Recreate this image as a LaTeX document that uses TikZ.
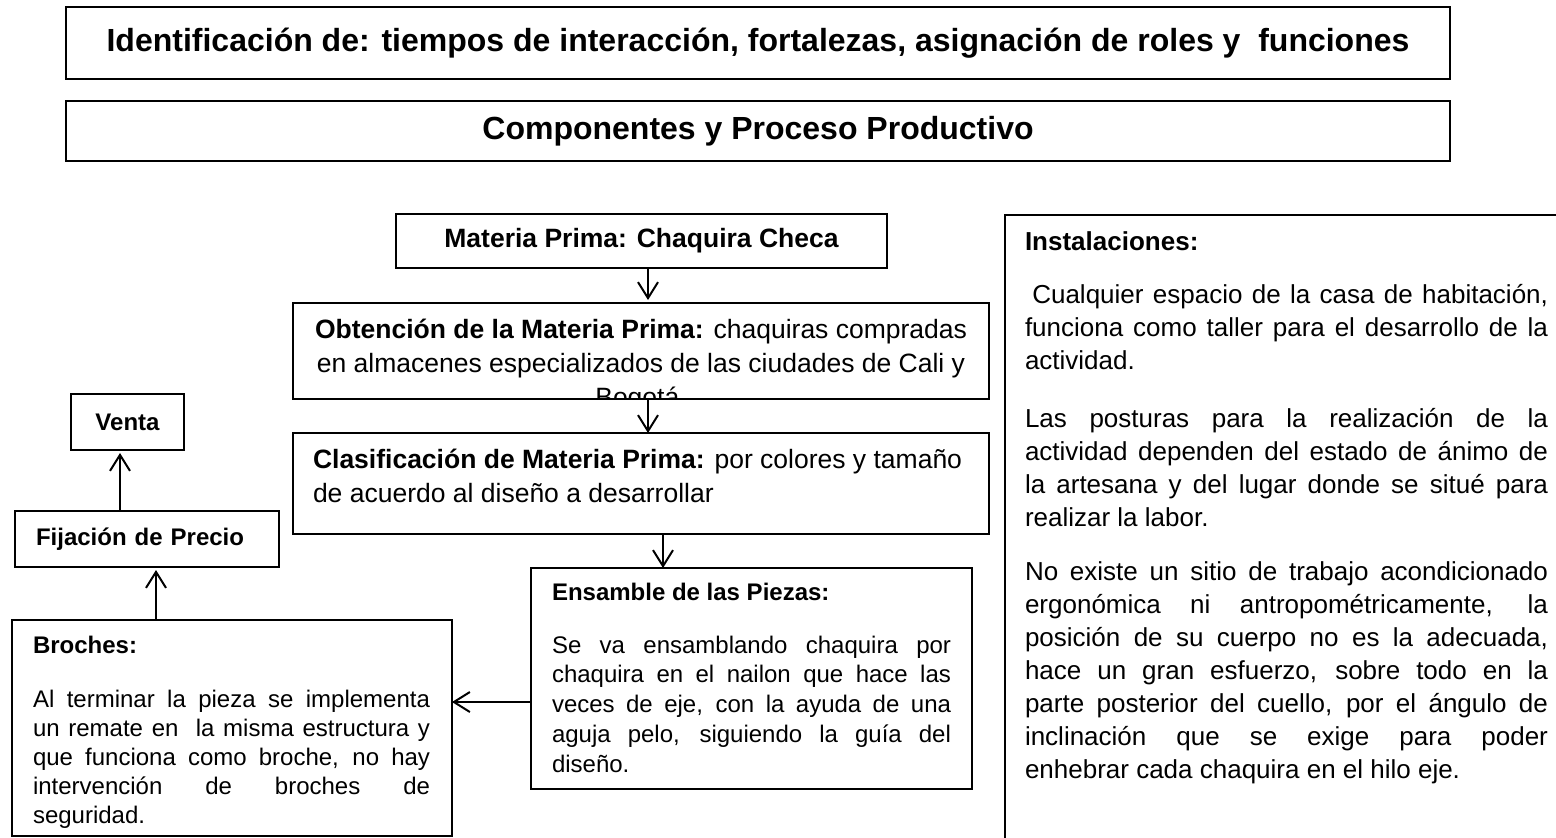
\documentclass[tikz,border=0pt]{standalone}
\usepackage{fontspec}
\setmainfont{Liberation Sans}
\usetikzlibrary{arrows.meta}
\hyphenpenalty=10000
\exhyphenpenalty=10000
\newcommand{\gapline}[1]{\par\vspace{#1}}

\begin{document}
\begin{tikzpicture}[x=0.5pt, y=-0.5pt,
    box/.style={draw, line width=1pt, inner sep=0pt, outer sep=0pt},
    inbox/.style={inner sep=0pt, minimum width=0pt, minimum height=0pt, anchor=north west},
    arr/.style={-{Straight Barb[length=8pt,width=10pt]}, line width=1pt}]
  \tikzstyle{headtext} = [font={\fontsize{16}{19}\selectfont\bfseries}]
  \tikzstyle{bigtext} = [font={\fontsize{13.25}{17}\selectfont}]
  \useasboundingbox (0,0) rectangle (1556,837);
  \clip (0,0) rectangle (1556,837);

  \node (titulo) [box, headtext, minimum width=692pt, minimum height=36pt] at (758,43)
    {Identificación de: tiempos de interacción, fortalezas, asignación de roles y\ \ funciones};
  \node (componentes) [box, headtext, minimum width=692pt, minimum height=30pt] at (758,131)
    {Componentes y Proceso Productivo};

  \node (materia) [box, minimum width=245.5pt, minimum height=27pt,
      font={\fontsize{13.25}{17}\selectfont\bfseries}] at (641.5,241) {Materia Prima: Chaquira Checa};
  \node (obtencion) [box, anchor=north west, minimum width=348pt, minimum height=48pt,
      path picture={\node [inbox, bigtext, anchor=north] at (path picture bounding box.north)
        {\parbox{340pt}{\centering\rule{0pt}{17.5pt}\textbf{Obtención de la Materia Prima:} chaquiras compradas\\
          en almacenes especializados de las ciudades de Cali y\\ Bogotá.}};}] at (293,303) {};
  \node (clasificacion) [box, anchor=north west, minimum width=348pt, minimum height=50.5pt,
      path picture={\node [inbox, bigtext] at ([xshift=10pt]path picture bounding box.north west)
        {\parbox{330pt}{\raggedright\rule{0pt}{17.5pt}\textbf{Clasificación de Materia Prima:} por colores y tamaño\\
          de acuerdo al diseño a desarrollar}};}] at (293,433) {};
  \node (ensamble) [box, anchor=north west, minimum width=220.5pt, minimum height=110.5pt,
      path picture={\node [inbox, font={\fontsize{12}{14.9}\selectfont}]
        at ([xshift=10.5pt]path picture bounding box.north west)
        {\parbox{199.5pt}{\rule{0pt}{16pt}\textbf{Ensamble de las Piezas:}\gapline{11.6pt}
          Se va ensamblando chaquira por\linebreak chaquira en el nailon que hace las\linebreak
          veces de eje, con la ayuda de una\linebreak aguja pelo, siguiendo la guía del\linebreak diseño.}};}] at (531,568) {};
  \node (broches) [box, anchor=north west, minimum width=220pt, minimum height=108pt,
      path picture={\node [inbox, font={\fontsize{12}{14.6}\selectfont}]
        at ([xshift=10.5pt]path picture bounding box.north west)
        {\parbox{198.5pt}{\rule{0pt}{16.5pt}\textbf{Broches:}\gapline{12.4pt}
          Al terminar la pieza se implementa\linebreak un remate en\ \ la misma estructura y\linebreak
          que funciona como broche, no hay\linebreak intervención de broches de\linebreak seguridad.}};}] at (12,620) {};
  \node (fijacion) [box, minimum width=132pt, minimum height=28pt, text width=111pt, align=left, inner xsep=10.5pt,
      font={\fontsize{12}{14}\selectfont\bfseries}] at (147,539) {Fijación de Precio};
  \node (venta) [box, minimum width=56.5pt, minimum height=28pt,
      font={\fontsize{12}{14}\selectfont\bfseries}] at (127.5,422) {Venta};

  \node (instalaciones) [box, anchor=north west, minimum width=400pt, minimum height=400pt,
      path picture={\node [inbox, font={\fontsize{13}{16.5}\selectfont}]
        at ([xshift=10pt]path picture bounding box.north west)
        {\parbox{261.5pt}{\rule{0pt}{17.5pt}\textbf{Instalaciones:}\gapline{10pt}
          \hspace*{0.28em}Cualquier espacio de la casa de habitación,\linebreak funciona como taller para el desarrollo de la\linebreak
          actividad.\gapline{12.5pt}
          Las posturas para la realización de la\linebreak actividad dependen del estado de ánimo de\linebreak
          la artesana y del lugar donde se situé para\linebreak realizar la labor.\gapline{10.5pt}
          No existe un sitio de trabajo acondicionado\linebreak ergonómica ni antropométricamente, la\linebreak
          posición de su cuerpo no es la adecuada,\linebreak hace un gran esfuerzo, sobre todo en la\linebreak
          parte posterior del cuello, por el ángulo de\linebreak inclinación que se exige para poder\linebreak
          enhebrar cada chaquira en el hilo eje.}};}] at (1005,215) {};

  \draw[arr, shorten >=1.5pt] ([xshift=3.25pt]materia.south) -- ([xshift=3.25pt]materia.south |- obtencion.north);
  \draw[arr] ([xshift=3.5pt]obtencion.south) -- ([xshift=3.5pt]obtencion.south |- clasificacion.north);
  \draw[arr] ([xshift=11pt]clasificacion.south) -- ([xshift=11pt]clasificacion.south |- ensamble.north);
  \draw[arr] ([yshift=-11.75pt]ensamble.west) -- ([yshift=-11.75pt]ensamble.west -| broches.east);
  \draw[arr, shorten >=1.5pt] ([xshift=4.5pt]fijacion.south |- broches.north) -- ([xshift=4.5pt]fijacion.south);
  \draw[arr, shorten >=1.5pt] ([xshift=-3.75pt]venta.south |- fijacion.north) -- ([xshift=-3.75pt]venta.south);
\end{tikzpicture}
\end{document}
